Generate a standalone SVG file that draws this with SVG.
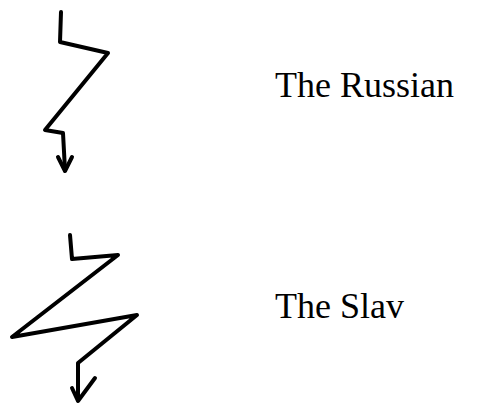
<svg xmlns="http://www.w3.org/2000/svg" width="484" height="405" viewBox="0 0 484 405">
<style>
.s{fill:none;stroke:#000;stroke-width:4;stroke-linecap:round;stroke-linejoin:round}
.t{font-family:"Liberation Serif","Times New Roman",serif;font-size:36px;fill:#000}
</style>
<rect width="484" height="405" fill="#fff"/>
<g id="connectors">
<g id="russian-bolt">
<path class="s" d="M61,12 L60,42 L108,53 L45,130 L63,133 L65,170"/>
<path class="s" d="M58,157 L65,171 L72,157"/>
</g>
<g id="slav-bolt">
<path class="s" d="M70,235 L72,259 L118,255 L12,337 L137,315 L78,363 L78,400"/>
<path class="s" d="M72,388 L78,401 L95,378"/>
</g>
</g>
<g id="russian"><text class="t" x="275" y="97">The Russian</text></g>
<g id="slav"><text class="t" x="275" y="318">The Slav</text></g>
</svg>
